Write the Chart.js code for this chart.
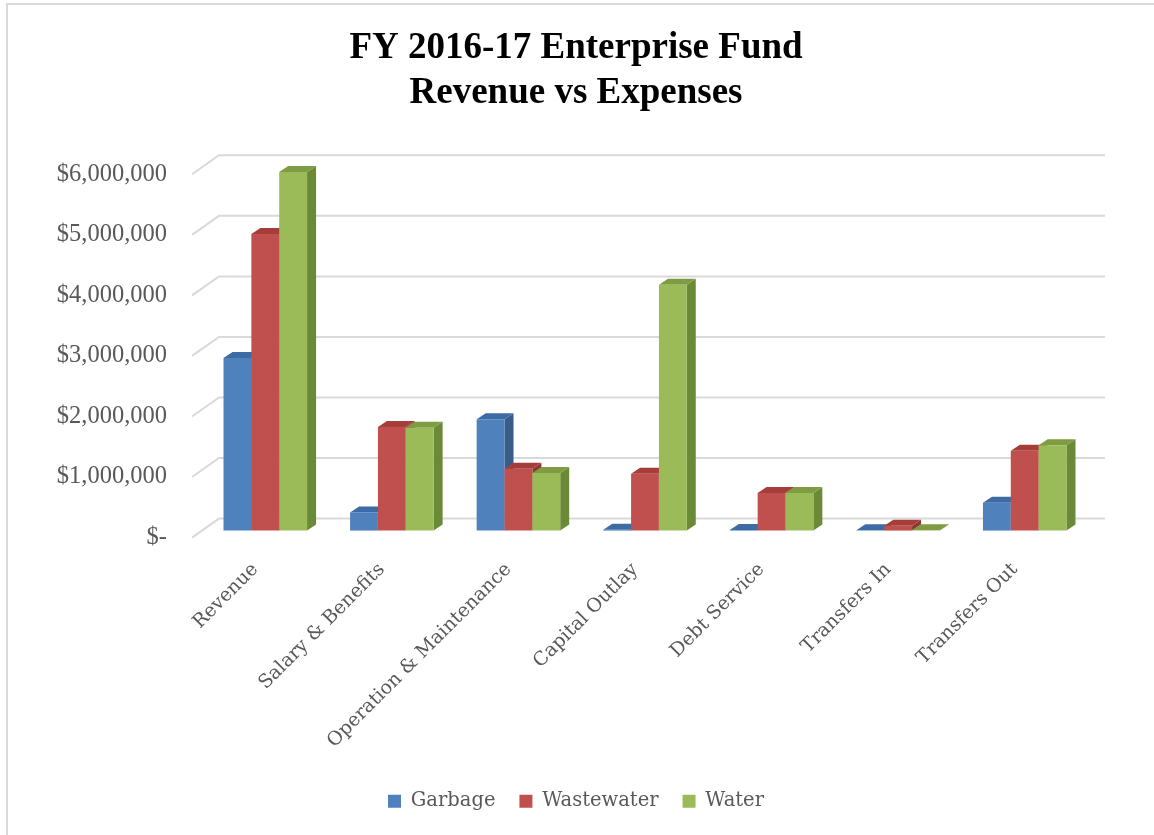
<!DOCTYPE html>
<html>
<head>
<meta charset="utf-8">
<script src="https://cdn.jsdelivr.net/npm/chart.js@4"></script>
<style>
  body { margin: 0; background: #fff; }
  canvas { display: block; }
</style>
</head>
<body>
<canvas id="chart" width="1154" height="835"></canvas>
<script>
const categories = ['Revenue', 'Salary & Benefits', 'Operation & Maintenance', 'Capital Outlay', 'Debt Service', 'Transfers In', 'Transfers Out'];
const garbage = [2850000, 300000, 1840000, 15000, 10000, 5000, 460000];
const wastewater = [4900000, 1710000, 1020000, 940000, 620000, 80000, 1320000];
const water = [5920000, 1700000, 950000, 4060000, 620000, 5000, 1410000];
const yTicks = [0, 1000000, 2000000, 3000000, 4000000, 5000000, 6000000];

const FONT = "'DejaVu Serif', serif";
const GREY = '#595959';

// 3d look: bar offset from front plane, bar depth, floor depth
const OFF = { x: 10, y: 7 };
const DEPTH = { x: 9, y: 6 };
const FLOOR = { x: 27, y: 19 };
const shades = [
  { side: '#385d8a', top: '#3d6ca5' },
  { side: '#8e3835', top: '#a53e3b' },
  { side: '#6b8a37', top: '#7e9d42' }
];

function poly(ctx, pts, color) {
  ctx.fillStyle = color;
  ctx.beginPath();
  ctx.moveTo(pts[0][0], pts[0][1]);
  pts.slice(1).forEach(p => ctx.lineTo(p[0], p[1]));
  ctx.closePath();
  ctx.fill();
}

const frame = {
  id: 'frame',
  beforeDraw(chart) {
    const ctx = chart.ctx;
    ctx.save();
    ctx.strokeStyle = '#d9d9d9';
    ctx.lineWidth = 2;
    ctx.strokeRect(7, 4, 1300, 1000);
    ctx.restore();
  }
};

const wall = {
  id: 'wall',
  beforeDatasetsDraw(chart) {
    const ctx = chart.ctx;
    const y = chart.scales.y;
    const { left, right } = chart.chartArea;
    ctx.save();
    ctx.strokeStyle = '#d9d9d9';
    ctx.lineWidth = 2;
    yTicks.forEach(v => {
      const py = y.getPixelForValue(v);
      ctx.beginPath();
      ctx.moveTo(left, py);
      ctx.lineTo(left + FLOOR.x, py - FLOOR.y);
      ctx.lineTo(right + FLOOR.x, py - FLOOR.y);
      ctx.stroke();
    });
    ctx.restore();
  }
};

const bars3d = {
  id: 'bars3d',
  beforeDatasetDraw() {
    return false; // drawn below in the right order
  },
  afterDatasetsDraw(chart) {
    const ctx = chart.ctx;
    ctx.save();
    ctx.translate(OFF.x, -OFF.y);
    for (let d = 0; d < chart.data.datasets.length; d++) {
      const meta = chart.getDatasetMeta(d);
      const s = shades[d];
      meta.data.forEach(bar => {
        const { x, y, base, width } = bar.getProps(['x', 'y', 'base', 'width'], true);
        const l = x - width / 2, r = x + width / 2;
        poly(ctx, [[r, y], [r + DEPTH.x, y - DEPTH.y], [r + DEPTH.x, base - DEPTH.y], [r, base]], s.side);
        poly(ctx, [[l, y], [l + DEPTH.x, y - DEPTH.y], [r + DEPTH.x, y - DEPTH.y], [r, y]], s.top);
        bar.draw(ctx);
      });
    }
    ctx.restore();
  }
};

new Chart(document.getElementById('chart'), {
  type: 'bar',
  data: {
    labels: categories,
    datasets: [
      { label: 'Garbage', data: garbage, backgroundColor: '#4f81bd' },
      { label: 'Wastewater', data: wastewater, backgroundColor: '#c0504d' },
      { label: 'Water', data: water, backgroundColor: '#9bbb59' }
    ]
  },
  options: {
    responsive: false,
    animation: false,
    layout: { padding: { left: 10, right: 12, top: 0, bottom: 14 } },
    datasets: { bar: { categoryPercentage: 0.66, barPercentage: 1, borderWidth: 0 } },
    plugins: {
      title: {
        display: true,
        text: ['FY 2016-17 Enterprise Fund', 'Revenue vs Expenses'],
        color: '#000',
        font: { family: "'Liberation Serif', serif", size: 37, weight: 'bold', lineHeight: 1.22 },
        padding: { top: 26, bottom: 58 }
      },
      legend: {
        position: 'bottom',
        labels: { color: GREY, font: { family: FONT, size: 19.5 }, boxWidth: 13, boxHeight: 13, padding: 24 }
      },
      tooltip: { enabled: false }
    },
    scales: {
      x: {
        grid: { display: false },
        border: { display: false },
        afterFit: s => { s.height += 2; },
        ticks: { color: GREY, font: { family: FONT, size: 19 }, minRotation: 45, maxRotation: 45, padding: 13 }
      },
      y: {
        min: 0,
        max: 6000000,
        afterBuildTicks: s => { s.ticks = yTicks.map(v => ({ value: v })); },
        afterFit: s => { s.width = 182; },
        grid: { display: false },
        border: { display: false },
        ticks: {
          color: GREY,
          font: { family: "'Liberation Serif', serif", size: 24.5 },
          padding: 17,
          callback: v => v === 0 ? '$-' : '$' + v.toLocaleString('en-US')
        }
      },
      y2: {
        position: 'right',
        grid: { display: false },
        border: { display: false },
        ticks: { display: false },
        afterFit: s => { s.width = 64; }
      }
    }
  },
  plugins: [frame, wall, bars3d]
});
</script>
</body>
</html>
